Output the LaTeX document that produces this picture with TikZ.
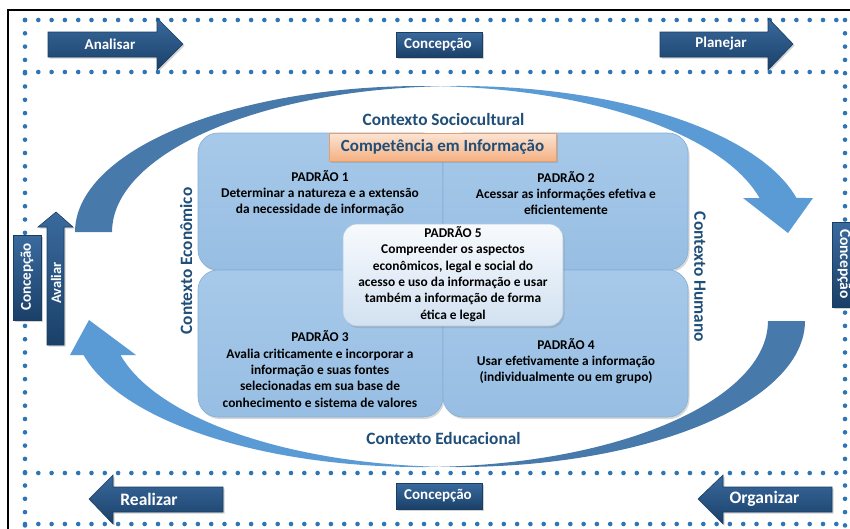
\documentclass[tikz,border=0pt]{standalone}
\usepackage{fontspec}
\setmainfont{Carlito}
\usetikzlibrary{shadows}
\definecolor{dotblue}{HTML}{2E75B6}
\definecolor{navy}{HTML}{1F4E79}
\definecolor{navytop}{HTML}{3A6A9E}
\definecolor{navybot}{HTML}{1A4068}
\definecolor{arcdark}{HTML}{477AAB}
\definecolor{arclight}{HTML}{5B9BD5}
\definecolor{boxtop}{HTML}{A7C9E9}
\definecolor{boxbot}{HTML}{97BEE3}
\definecolor{boxline}{HTML}{86AED8}
\definecolor{ctxtext}{HTML}{1F4E79}
\definecolor{orangetop}{HTML}{FCE4D3}
\definecolor{orangebot}{HTML}{F4B183}
\definecolor{orangeline}{HTML}{E3A06E}
\definecolor{p5top}{HTML}{F7FAFD}
\definecolor{p5bot}{HTML}{D2E1F1}
\definecolor{p5line}{HTML}{AFC8E2}
\begin{document}
\begin{tikzpicture}[x=1pt,y=-1pt,
  dotline/.style={dotblue, line width=4.6pt, line cap=round, dash pattern=on 0pt off 13.3pt},
  navyshape/.style={top color=navytop, bottom color=navybot, draw=navy!80!black, line width=0.6pt,
    drop shadow={opacity=0.35, shadow xshift=1.5pt, shadow yshift=-1.5pt}},
  navytext/.style={text=white, font=\fontsize{15}{18}\selectfont\bfseries, inner sep=0pt},
  bigtext/.style={text=white, font=\fontsize{17.5}{20}\selectfont\bfseries, inner sep=0pt},
  ctxlabel/.style={text=ctxtext, font=\fontsize{17.3}{20}\selectfont\bfseries, inner sep=0pt},
  quadbox/.style={rounded corners=20pt, top color=boxtop, bottom color=boxbot, draw=boxline, line width=0.6pt,
    drop shadow={opacity=0.3, shadow xshift=1.5pt, shadow yshift=-2pt}, inner sep=0pt},
  padtext/.style={align=center, font=\fontsize{13.4}{16.3}\selectfont\bfseries, inner sep=0pt, text=black}
]
\useasboundingbox (0,0) rectangle (850,528);
\clip (0,0) rectangle (850,528);
\fill[white] (0,0) rectangle (850,528);

% frame
\draw[line width=2.6pt] (8,530) -- (8,10) -- (852,10);

% dotted bands
\draw[dotline] (25,20) -- (845,20);
\draw[dotline] (25,72) -- (845,72);
\draw[dotline] (25,473) -- (845,473);
\draw[dotline] (25,524) -- (845,524);
\draw[dotline] (25,20) -- (25,528);
\draw[dotline] (845,20) -- (845,528);

% curved arrows
\fill[arcdark] (75,232) arc[start angle=180, end angle=273.06, x radius=347, y radius=146]
   arc[start angle=266.94, end angle=180, x radius=347, y radius=146] -- cycle;
\fill[arclight] (440.5,86.2) arc[start angle=266.94, end angle=346.53, x radius=347, y radius=146]
   -- (813,198) -- (788,233) -- (743,198) -- (759.5,198)
   arc[start angle=346.53, end angle=273.06, x radius=347, y radius=146] -- cycle;
\fill[arcdark] (805,321) arc[start angle=0, end angle=93.06, x radius=347, y radius=146]
   arc[start angle=86.94, end angle=0, x radius=347, y radius=146] -- cycle;
\fill[arclight] (439.5,466.8) arc[start angle=86.94, end angle=166.53, x radius=347, y radius=146]
   -- (70,355) -- (89,320) -- (136,355) -- (120.5,355)
   arc[start angle=166.53, end angle=93.06, x radius=347, y radius=146] -- cycle;

% context labels
\node[ctxlabel] (soc) at (443.5,119) {Contexto Sociocultural};
\node[ctxlabel] (edu) at (443.5,438) {Contexto Educacional};
\node[ctxlabel, rotate=90] (eco) at (186,261) {Contexto Econômico};
\node[ctxlabel, rotate=-90] (hum) at (700,277) {Contexto Humano};

% quadrant boxes
\node[quadbox, minimum width=245pt, minimum height=137pt] (b1) at (320.5,201.5) {};
\node[quadbox, minimum width=245pt, minimum height=137pt] (b2) at (565.5,201.5) {};
\node[quadbox, minimum width=245pt, minimum height=147pt] (b3) at (320.5,343.5) {};
\node[quadbox, minimum width=245pt, minimum height=147pt] (b4) at (565.5,343.5) {};

\node[padtext] (t1) at (320,193) {PADRÃO 1\\Determinar a natureza e a extensão\\da necessidade de informação};
\node[padtext] (t2) at (566,193) {PADRÃO 2\\Acessar as informações efetiva e\\eficientemente};
\node[padtext] (t3) at (320,369) {PADRÃO 3\\Avalia criticamente e incorporar a\\informação e suas fontes\\selecionadas em sua base de\\conhecimento e sistema de valores};
\node[padtext] (t4) at (566,361) {PADRÃO 4\\Usar efetivamente a informação\\(individualmente ou em grupo)};

% padrão 5
\node[rounded corners=14pt, top color=p5top, bottom color=p5bot, draw=p5line, line width=0.6pt,
  drop shadow={opacity=0.3, shadow xshift=1.5pt, shadow yshift=-2pt},
  minimum width=220pt, minimum height=102pt, inner sep=0pt] (b5) at (453,275) {};
\node[padtext] (t5) at (453,274) {PADRÃO 5\\Compreender os aspectos\\econômicos, legal e social do\\acesso e uso da informação e usar\\também a  informação de forma\\ética e legal};

% competencia
\node[top color=orangetop, bottom color=orangebot, draw=orangeline, line width=0.6pt,
  drop shadow={opacity=0.3, shadow xshift=1.5pt, shadow yshift=-1.5pt},
  minimum width=227pt, minimum height=28pt, inner sep=0pt,
  text=ctxtext, font=\fontsize{17}{20}\selectfont\bfseries] (comp) at (442.5,147) {Competência em Informação};

% band arrows
\path[navyshape] (48,32) -- (157,32) -- (157,18) -- (183,44) -- (157,70) -- (157,57) -- (48,57) -- cycle;
\node[navytext] (analisar) at (110,44) {Analisar};
\path[navyshape] (660,32) -- (768,32) -- (768,18) -- (793,44) -- (768,70) -- (768,57) -- (660,57) -- cycle;
\node[navytext] (planejar) at (721,44) {Planejar};
\path[navyshape] (223,487) -- (113,487) -- (113,475) -- (89,499) -- (113,524) -- (113,512) -- (223,512) -- cycle;
\node[bigtext] (realizar) at (149,499) {Realizar};
\path[navyshape] (832,487) -- (723,487) -- (723,475) -- (698,499) -- (723,524) -- (723,512) -- (832,512) -- cycle;
\node[bigtext] (organizar) at (764.5,499) {Organizar};
\path[navyshape] (47,345) -- (47,227) -- (38,227) -- (56,212) -- (73,227) -- (64,227) -- (64,345) -- cycle;
\node[navytext, rotate=90, font=\fontsize{14.5}{17}\selectfont\bfseries] (avaliar) at (56,283) {Avaliar};

% concepcao boxes
\path[navyshape] (396,32) rectangle (482,57);
\node[navytext] (ctop) at (438,44.5) {Concepção};
\path[navyshape] (396,483) rectangle (482,509);
\node[navytext] (cbot) at (438,496) {Concepção};
\path[navyshape] (13,235) rectangle (41,320);
\node[navytext, rotate=90] (cleft) at (27,277) {Concepção};
\path[navyshape] (832,222) rectangle (862,307);
\node[navytext, rotate=-90, font=\fontsize{15.5}{18}\selectfont\bfseries] (cright) at (844,264) {Concepção};
\end{tikzpicture}
\end{document}
